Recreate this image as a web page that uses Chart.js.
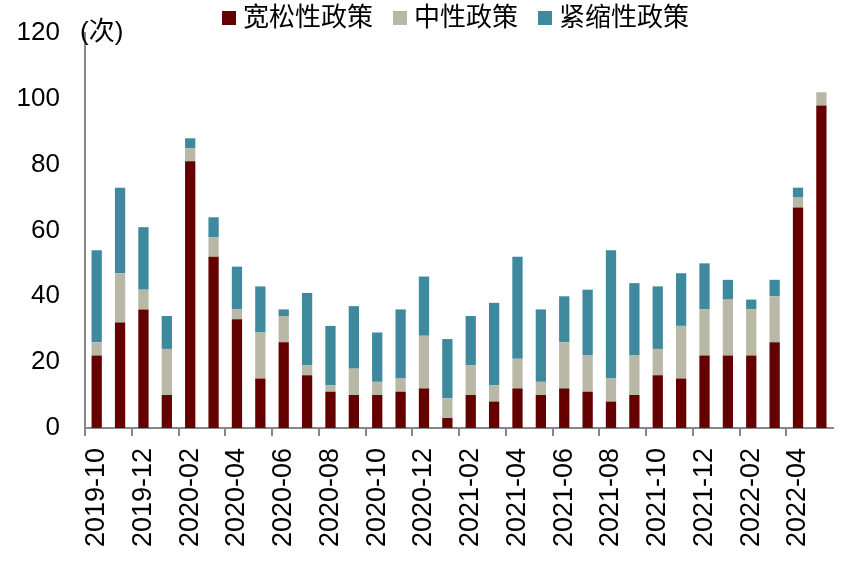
<!DOCTYPE html>
<html>
<head>
<meta charset="utf-8">
<script src="https://cdn.jsdelivr.net/npm/chart.js@4"></script>
<style>
	body { margin: 0; background: #fff; }
	#wrap { width: 866px; height: 566px; }
</style>
</head>
<body>
<div id="wrap"><canvas id="myChart" width="866" height="566"></canvas></div>
<script>
/* Data */
const months = [
	'2019-10', '2019-11', '2019-12',
	'2020-01', '2020-02', '2020-03', '2020-04', '2020-05', '2020-06',
	'2020-07', '2020-08', '2020-09', '2020-10', '2020-11', '2020-12',
	'2021-01', '2021-02', '2021-03', '2021-04', '2021-05', '2021-06',
	'2021-07', '2021-08', '2021-09', '2021-10', '2021-11', '2021-12',
	'2022-01', '2022-02', '2022-03', '2022-04', '2022-05',
]
const loose = [22, 32, 36, 10, 81, 52, 33, 15, 26, 16, 11, 10, 10, 11, 12, 3, 10, 8, 12, 10, 12, 11, 8, 10, 16, 15, 22, 22, 22, 26, 67, 98]
const neutral = [4, 15, 6, 14, 4, 6, 3, 14, 8, 3, 2, 8, 4, 4, 16, 6, 9, 5, 9, 4, 14, 11, 7, 12, 8, 16, 14, 17, 14, 14, 3, 4]
const tight = [28, 26, 19, 10, 3, 6, 13, 14, 2, 22, 18, 19, 15, 21, 18, 18, 15, 25, 31, 22, 14, 20, 39, 22, 19, 16, 14, 6, 3, 5, 3, 0]
const yTicks = [0, 20, 40, 60, 80, 100, 120]

const font = '"Liberation Sans", Arial, "Noto Sans CJK SC", sans-serif'
const axisGray = '#878787'

/* legend + unit drawn on top */
const extras = {
	id: 'extras',
	afterDraw(chart) {
		const c = chart.ctx
		c.save()
		c.font = '26px ' + font
		c.fillStyle = '#000'
		c.textBaseline = 'middle'
		c.fillText('(次)', 80, 33)

		let x = 222
		chart.data.datasets.forEach(ds => {
			c.fillStyle = ds.backgroundColor
			c.fillRect(x, 11, 14, 14)
			c.fillStyle = '#000'
			c.fillText(ds.label, x + 21, 19)
			x += 21 + c.measureText(ds.label).width + 20
		})
		c.restore()
	},
}

const ctx = document.getElementById('myChart')

new Chart(ctx, {
	type: 'bar',
	data: {
		labels: months,
		datasets: [
			{ label: '宽松性政策', data: loose, backgroundColor: '#650000' },
			{ label: '中性政策', data: neutral, backgroundColor: '#b9b8a6' },
			{ label: '紧缩性政策', data: tight, backgroundColor: '#3e899d' },
		],
	},
	options: {
		responsive: false,
		animation: false,
		layout: {
			padding: { left: 5, right: 13, top: 33, bottom: 7 },
		},
		datasets: {
			bar: { categoryPercentage: 1, barPercentage: 0.44 },
		},
		plugins: {
			legend: { display: false },
			tooltip: { enabled: false },
		},
		scales: {
			x: {
				stacked: true,
				grid: {
					drawOnChartArea: false,
					drawTicks: true,
					tickLength: 8,
					lineWidth: 2,
					color: c => (c.index % 2 === 0 ? axisGray : 'rgba(0,0,0,0)'),
				},
				border: { color: axisGray, width: 2 },
				ticks: {
					autoSkip: false,
					minRotation: 90,
					maxRotation: 90,
					padding: 12,
					color: '#000',
					font: { family: font, size: 27 },
					callback: (v, i) => (i % 2 === 0 ? months[i] : ''),
				},
			},
			y: {
				stacked: true,
				min: 0,
				max: 120,
				afterFit: scale => {
					scale.width = 80
					scale.paddingTop = 0
					scale.paddingBottom = 0
				},
				afterBuildTicks: scale => { scale.ticks = yTicks.map(v => ({ value: v })) },
				grid: { display: false, drawTicks: false, tickLength: 0 },
				border: { color: axisGray, width: 2 },
				ticks: {
					padding: 25,
					color: '#000',
					font: { family: font, size: 26 },
				},
			},
		},
	},
	plugins: [extras],
})
</script>
</body>
</html>
